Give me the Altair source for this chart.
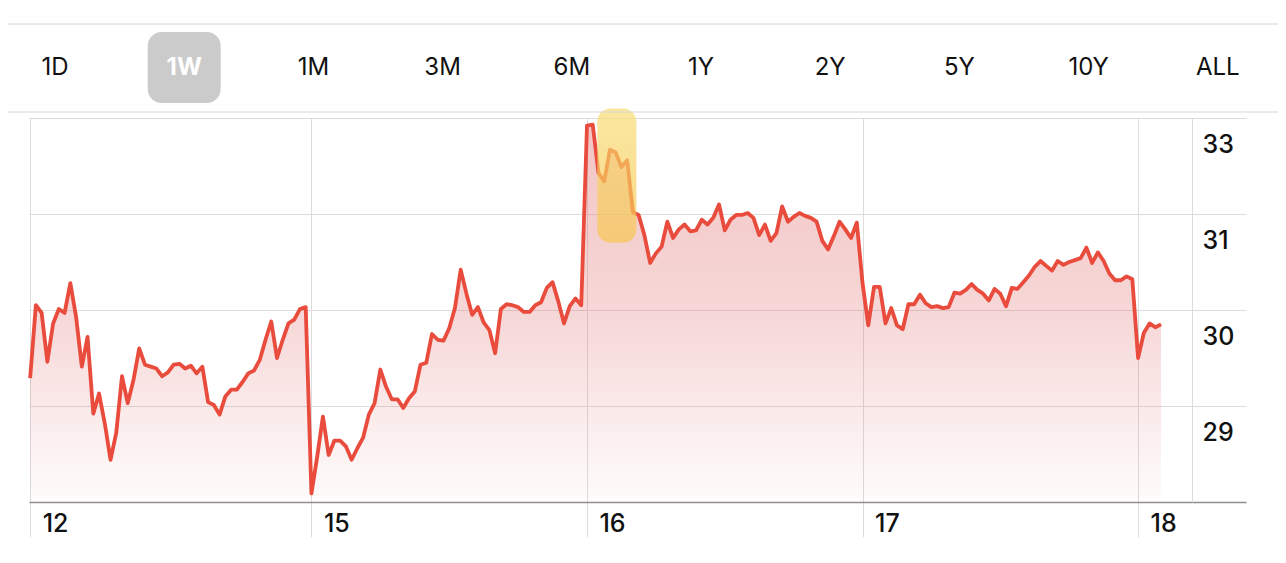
import json
import altair as alt
import pandas as pd

# ---- data ----
day_labels = ["12", "15", "16", "17", "18"]
day_starts = [0, 49, 97, 145, 193]   # index of first sample of each trading day

d12 = [29.29, 30.05, 29.97, 29.46, 29.86, 30.01, 29.97, 30.28, 29.93, 29.41,
       29.72, 28.92, 29.13, 28.82, 28.44, 28.72, 29.31, 29.03, 29.27, 29.60,
       29.43, 29.41, 29.39, 29.31, 29.35, 29.43, 29.44, 29.39, 29.42, 29.34,
       29.41, 29.04, 29.01, 28.91, 29.10, 29.17, 29.17, 29.25, 29.34, 29.37,
       29.48, 29.69, 29.88, 29.50, 29.69, 29.86, 29.90, 30.01, 30.03]
d15 = [28.09, 28.47, 28.89, 28.49, 28.64, 28.64, 28.58, 28.44, 28.56, 28.67,
       28.91, 29.03, 29.38, 29.20, 29.07, 29.07, 28.98, 29.08, 29.15, 29.43,
       29.45, 29.75, 29.69, 29.68, 29.81, 30.02, 30.42, 30.17, 29.95, 30.03,
       29.87, 29.79, 29.55, 30.01, 30.06, 30.05, 30.03, 29.98, 29.98, 30.05,
       30.08, 30.23, 30.29, 30.09, 29.86, 30.04, 30.12, 30.05]
d16 = [31.92, 31.93, 31.43, 31.34, 31.67, 31.64, 31.49, 31.56, 31.02, 30.99,
       30.78, 30.49, 30.59, 30.66, 30.92, 30.75, 30.84, 30.89, 30.82, 30.83,
       30.94, 30.89, 30.96, 31.10, 30.83, 30.94, 30.99, 30.99, 31.01, 30.96,
       30.78, 30.89, 30.72, 30.80, 31.08, 30.92, 30.97, 31.01, 30.98, 30.96,
       30.92, 30.72, 30.63, 30.77, 30.92, 30.84, 30.75, 30.91]
d17 = [30.28, 29.84, 30.24, 30.24, 29.86, 30.02, 29.84, 29.80, 30.06, 30.06,
       30.16, 30.07, 30.03, 30.04, 30.02, 30.03, 30.18, 30.17, 30.21, 30.27,
       30.21, 30.17, 30.10, 30.22, 30.17, 30.04, 30.23, 30.22, 30.29, 30.36,
       30.45, 30.51, 30.46, 30.41, 30.51, 30.47, 30.50, 30.52, 30.54, 30.65,
       30.49, 30.60, 30.51, 30.38, 30.31, 30.31, 30.35, 30.32]
d18 = [29.50, 29.76, 29.86, 29.82, 29.85]

y_tick_values = [32, 31, 30, 29]
y_tick_labels = ["33", "31", "30", "29"]

ranges = ["1D", "1W", "1M", "3M", "6M", "1Y", "2Y", "5Y", "10Y", "ALL"]
selected = "1W"

# highlighter annotation (in data units)
hl_idx = [98.8, 105.6]
hl_price = [32.1, 30.7]

# ---- build tables ----
prices = d12 + d15 + d16 + d17 + d18
df = pd.DataFrame({"idx": list(range(len(prices))), "price": prices})
hl_df = pd.DataFrame({"idx": [hl_idx[0]], "idx2": [hl_idx[1]],
                      "price": [hl_price[0]], "price2": [hl_price[1]]})
btn_df = pd.DataFrame({"label": ranges, "i": list(range(len(ranges)))})
one = pd.DataFrame({"k": [0]})

FONT = "Inter"
LINE = "#E94B3C"
GRID = "#DCDCDC"

xscale = alt.Scale(domain=[-0.2, 211.8], nice=False, zero=False)
yscale = alt.Scale(domain=[28, 32], nice=False, zero=False)

x_label_expr = f"{json.dumps(day_labels)}[indexof({json.dumps(day_starts)}, datum.value)]"
y_label_expr = f"{json.dumps(y_tick_labels)}[indexof({json.dumps(y_tick_values)}, datum.value)]"

xaxis = alt.Axis(values=day_starts, labelExpr=x_label_expr, title=None,
                 grid=True, gridColor=GRID, gridWidth=1,
                 domain=True, domainColor="#8E8E8E", domainWidth=1.5,
                 ticks=True, tickSize=35, tickColor=GRID, tickWidth=1,
                 labelAlign="left", labelBaseline="alphabetic", labelPadding=-6,
                 labelOffset=12, labelFont=FONT, labelFontSize=25,
                 labelFontWeight=500, labelColor="#111111",
                 labelFlush=False, labelOverlap=False)
yaxis = alt.Axis(values=y_tick_values, labelExpr=y_label_expr, title=None,
                 orient="right", offset=-54,
                 grid=True, gridColor=GRID, gridWidth=1,
                 domain=True, domainColor=GRID, domainWidth=1,
                 ticks=False, labelAlign="left", labelBaseline="alphabetic",
                 labelPadding=10, labelOffset=34, labelFont=FONT,
                 labelFontSize=25, labelFontWeight=500, labelColor="#111111",
                 labelFlush=False, labelOverlap=False)

X = alt.X("idx:Q", scale=xscale, axis=xaxis)
Y = alt.Y("price:Q", scale=yscale, axis=yaxis)

gradient = alt.Gradient(
    gradient="linear", x1=0, y1=0, x2=0, y2=1,
    stops=[alt.GradientStop(color="rgba(222,100,100,0.38)", offset=0),
           alt.GradientStop(color="rgba(222,100,100,0.26)", offset=0.5),
           alt.GradientStop(color="rgba(222,100,100,0.02)", offset=1)])

hl_gradient = alt.Gradient(
    gradient="linear", x1=0, y1=0, x2=0, y2=1,
    stops=[alt.GradientStop(color="#F8DC72", offset=0),
           alt.GradientStop(color="#F5C64E", offset=1)])

area = alt.Chart(df).mark_area(fill=gradient, line=False).encode(
    x=X, y=Y, y2=alt.datum(28))
line = alt.Chart(df).mark_line(color=LINE, strokeWidth=3.8, strokeJoin="round").encode(
    x=X, y=Y)
highlight = alt.Chart(hl_df).mark_rect(fill=hl_gradient, opacity=0.68, cornerRadius=13).encode(
    x=X, x2="idx2:Q", y=Y, y2="price2:Q")

# header: separators and range buttons
sep1 = alt.Chart(one).mark_rule(color="#D6D6D6", strokeWidth=1).encode(
    x=alt.value(-29), x2=alt.value(1257), y=alt.value(-94))
sep2 = alt.Chart(one).mark_rule(color="#D6D6D6", strokeWidth=1).encode(
    x=alt.value(-29), x2=alt.value(1257), y=alt.value(-6))

btn_base = alt.Chart(btn_df).transform_calculate(
    bx="26 + datum.i * 129.2", bl="26 + datum.i * 129.2 - 36.5", br="26 + datum.i * 129.2 + 36.5")
sel_box = btn_base.transform_filter(alt.datum.label == selected).mark_rect(
    color="#CBCBCB", cornerRadius=14).encode(
    x=alt.X("bl:Q", scale=None), x2="br:Q", y=alt.value(-86), y2=alt.value(-15))
btn_text = btn_base.transform_filter(alt.datum.label != selected).mark_text(
    font=FONT, fontSize=24, color="#111111", baseline="middle", align="center").encode(
    x=alt.X("bx:Q", scale=None), y=alt.value(-50), text="label:N")
sel_text = btn_base.transform_filter(alt.datum.label == selected).mark_text(
    font=FONT, fontSize=24, fontWeight="bold", color="white", baseline="middle", align="center").encode(
    x=alt.X("bx:Q", scale=None), y=alt.value(-50), text="label:N")

chart = alt.layer(area, line, highlight, sep1, sep2, sel_box, btn_text, sel_text).properties(
    width=1217, height=384,
    padding={"left": 21, "top": 110, "right": 32, "bottom": 53},
    autosize=alt.AutoSizeParams(type="none"),
    background="white",
).configure_view(stroke=None)

chart.save("out.html", embed_options={"renderer": "svg", "actions": False})
